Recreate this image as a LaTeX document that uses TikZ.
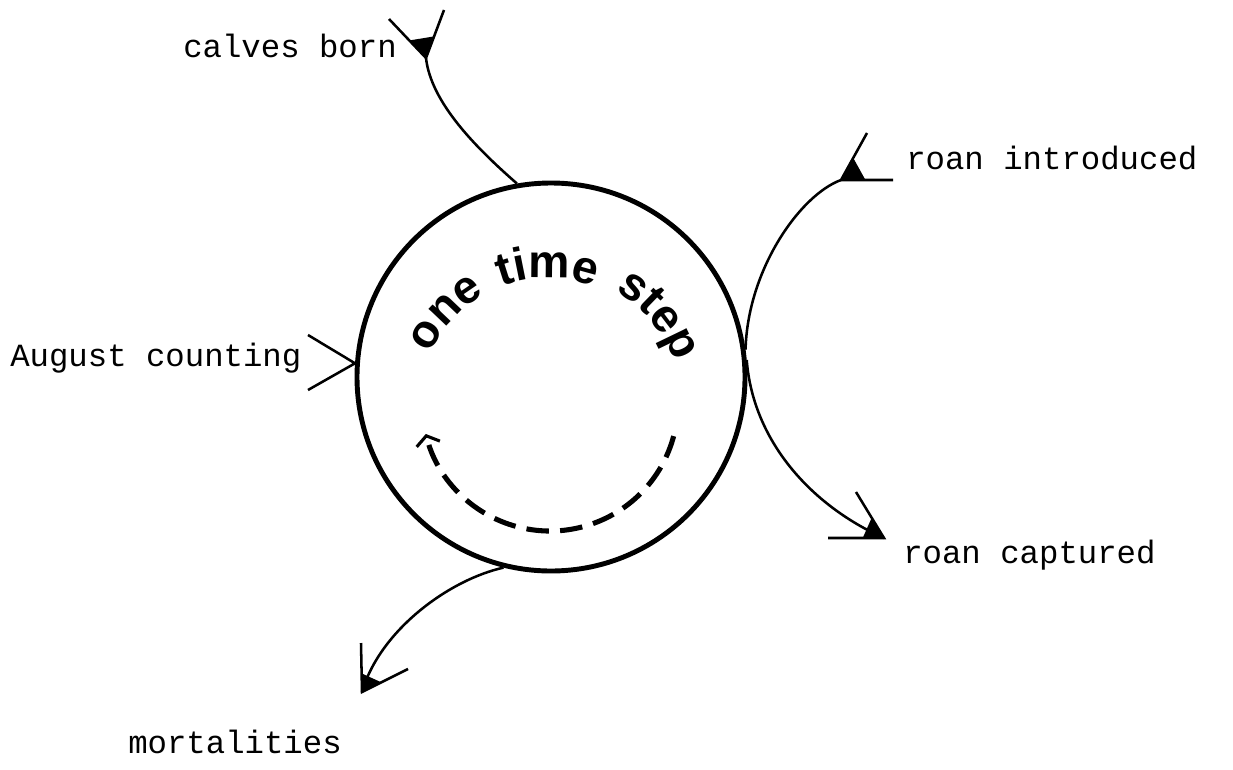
\documentclass[tikz,border=0pt]{standalone}
\usepackage{fontspec}
\setmonofont{Liberation Mono}
\newfontfamily\stepfont{Liberation Sans}
\usetikzlibrary{arrows.meta,decorations.text,calc}

\begin{document}
\begin{tikzpicture}[x=0.25mm, y=-0.25mm, font=\ttfamily\fontsize{23}{26}\selectfont,
  flow/.style={line width=1.8pt},
  arm/.style={line width=1.8pt},
  flowtext/.style={inner sep=0pt, anchor=base west}]
  \useasboundingbox (0,0) rectangle (1233,769);
  % the time step circle
  \node[draw, circle, line width=3.5pt, minimum size=97mm, inner sep=0pt] (cyc) at (551,377) {};
  \coordinate (mid) at (548,408);
  \coordinate (dmid) at (550,403);
  \path[decorate, decoration={text along path, text align=center, text={|\stepfont\bfseries\fontsize{33}{33}\selectfont|one}}]
    ($(mid)+(-167:130)$) arc[start angle=-167, end angle=-107, radius=130];
  \path[decorate, decoration={text along path, text align=center, text={|\stepfont\bfseries\fontsize{33}{33}\selectfont|time}}]
    ($(mid)+(-120:130)$) arc[start angle=-120, end angle=-60, radius=130];
  \path[decorate, decoration={text along path, text align=center, text={|\stepfont\bfseries\fontsize{33}{33}\selectfont|step}}]
    ($(mid)+(-70:135)$) arc[start angle=-70, end angle=-10, radius=135];
  \draw[line width=3.6pt, dash pattern=on 16pt off 8pt, -{Straight Barb[length=6pt, width=17pt, line width=2.2pt]}]
    ($(dmid)+(15:128)$) arc[start angle=15, end angle=166, radius=128];

  % labels
  \node[flowtext] (calves) at (183,57) {calves born};
  \node[flowtext] (august) at (10,366) {August counting};
  \node[flowtext] (introduced) at (906,169) {roan introduced};
  \node[flowtext] (captured) at (903,563) {roan captured};
  \node[flowtext] (mortal) at (128,753) {mortalities};

  % marker points
  \coordinate (cb) at (426,58);
  \coordinate (cba) at (389,19);
  \coordinate (cbb) at (444,10);
  \coordinate (ri) at (841,180);
  \coordinate (ria) at (893,180);
  \coordinate (rib) at (867,133);
  \coordinate (rc) at (884,538);
  \coordinate (rca) at (828,538);
  \coordinate (rcb) at (856,492);
  \coordinate (mo) at (362,692);
  \coordinate (moa) at (361,643);
  \coordinate (mob) at (408,669);
  \coordinate (aca) at (308,335);
  \coordinate (acb) at (308,390);

  % flows
  \draw[flow] (cyc.100) .. controls +(-40,-35) and +(5,45) .. (cb);
  \draw[flow] (cyc.8) .. controls +(2,-80) and +(-41,15) .. (ri);
  \draw[flow] (cyc.5) .. controls +(6,80) and +(-74,-33) .. (rc);
  \draw[flow] (cyc.-104) .. controls +(-54,12) and +(18,-62) .. (mo);
  \draw[arm] (aca) -- (cyc.176) -- (acb);

  % markers
  \draw[arm] (cba) -- (cb) -- (cbb);
  \fill ($(cb)!0.45!(cba)$) -- (cb) -- ($(cb)!0.45!(cbb)$) -- cycle;
  \draw[arm] (ria) -- (ri) -- (rib);
  \fill ($(ri)!0.47!(ria)$) -- (ri) -- ($(ri)!0.47!(rib)$) -- cycle;
  \draw[arm] (rca) -- (rc) -- (rcb);
  \fill ($(rc)!0.38!(rca)$) -- (rc) -- ($(rc)!0.44!(rcb)$) -- cycle;
  \draw[arm] (moa) -- (mo) -- (mob);
  \fill ($(mo)!0.38!(moa)$) -- (mo) -- ($(mo)!0.42!(mob)$) -- cycle;
\end{tikzpicture}
\end{document}
